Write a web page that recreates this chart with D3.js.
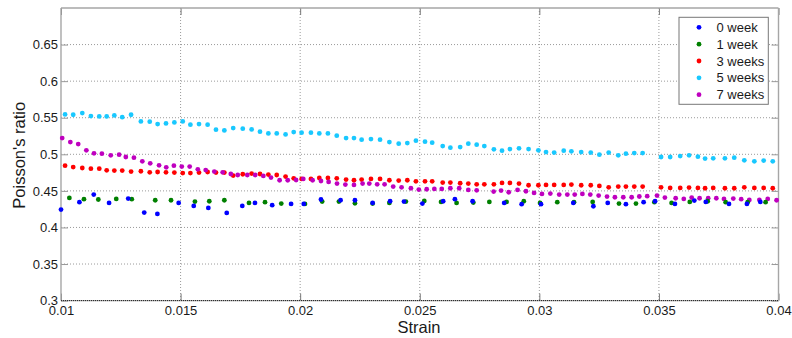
<!DOCTYPE html>
<html>
<head>
<meta charset="utf-8">
<script src="https://cdn.jsdelivr.net/npm/d3@7/dist/d3.min.js"></script>
<style>
  html, body { margin: 0; padding: 0; background: #fff; }
  svg { display: block; font-family: "Liberation Sans", Arial, sans-serif; }
</style>
</head>
<body>
<svg id="chart" width="792" height="338"></svg>
<script>
// ---------- data ----------
const seriesNames = ["0 week", "1 week", "3 weeks", "5 weeks", "7 weeks"];
const seriesColors = ["#0000ff", "#008000", "#ff0000", "#19c8ff", "#bf00bf"];

const xTicks = [0.01, 0.015, 0.02, 0.025, 0.03, 0.035, 0.04];
const xTickLabels = ["0.01", "0.015", "0.02", "0.025", "0.03", "0.035", "0.04"];
const yTicks = [0.3, 0.35, 0.4, 0.45, 0.5, 0.55, 0.6, 0.65];
const yTickLabels = ["0.3", "0.35", "0.4", "0.45", "0.5", "0.55", "0.6", "0.65"];

// 0 week
const strain0 = [0.0100,0.01077,0.01137,0.01201,0.01281,0.01348,0.01403,0.01492,0.01555,0.01616,0.01693,0.01758,
  0.01811,0.01883,0.01962,0.02015,0.02087,0.02169,0.02229,0.02303,0.02376,0.02434,0.02511,
  0.02598,0.02647,0.02721,0.02853,0.02926,0.03007,0.03142,0.03226,0.03286,
  0.03362,0.03436,0.03484,0.03567,0.03648,0.03696,0.03793,0.03868,0.03924];
const ratio0 = [0.4245,0.4345,0.4450,0.4335,0.4395,0.4204,0.4185,0.4335,0.4294,0.4267,0.4199,0.4294,
  0.4335,0.4304,0.4322,0.4322,0.4382,0.4372,0.4372,0.4335,0.4358,0.4354,0.4327,
  0.4358,0.4386,0.4358,0.4335,0.4318,0.4318,0.4335,0.4290,0.4335,
  0.4318,0.4345,0.4358,0.4322,0.4368,0.4349,0.4322,0.4322,0.4349];

// 1 week
const strain1 = [0.01035,0.01096,0.01156,0.01231,0.01296,0.01394,0.0146,0.0156,0.0162,0.01683,
  0.01786,0.01853,0.01921,0.0202,0.02092,0.02162,0.02229,0.02303,0.02373,0.02442,0.02519,
  0.02589,0.02654,0.02724,0.02791,0.02863,0.02935,0.03003,0.03075,0.03145,0.03223,
  0.03333,0.03404,0.03481,0.03553,0.03629,0.03704,0.03779,0.03871,0.03946];
const ratio1 = [0.4403,0.4386,0.4382,0.4390,0.4386,0.4372,0.4372,0.4354,0.4358,0.4372,
  0.4335,0.4345,0.4327,0.4322,0.4354,0.4354,0.4331,0.4327,0.4335,0.4354,0.4363,
  0.4349,0.4335,0.4340,0.4349,0.4349,0.4358,0.4335,0.4345,0.4345,0.4349,
  0.4327,0.4327,0.4345,0.4335,0.4349,0.4358,0.4345,0.4345,0.4345];

// 3 weeks and 5 weeks share the same strain steps
const strain35 = [0.01017,0.01051,0.01089,0.01125,0.0116,0.01191,0.01223,0.01256,0.01293,0.01334,
  0.01371,0.01404,0.01439,0.01474,0.01509,0.01541,0.01577,0.01613,0.01648,0.01683,
  0.0172,0.0176,0.01797,0.01832,0.01867,0.01902,0.01939,0.01973,0.02006,0.02045,
  0.0208,0.02116,0.02153,0.02192,0.02225,0.02257,0.02296,0.02334,0.02373,0.02412,
  0.02448,0.02484,0.02522,0.02552,0.02596,0.02628,0.02669,0.02703,0.02738,0.0277,
  0.0281,0.02844,0.02877,0.02915,0.02955,0.02996,0.03028,0.03062,0.03102,0.03134,
  0.03175,0.03215,0.03251,0.0329,0.0333,0.03362,0.03397,0.03432,0.03509,0.03547,
  0.03589,0.03626,0.03663,0.03693,0.03727,0.03776,0.03815,0.03857,0.03899,0.03938,0.03976];
const ratio3 = [0.4845,0.4826,0.4813,0.4804,0.4804,0.4781,0.4777,0.4777,0.4764,0.4768,
  0.4754,0.4758,0.4754,0.4750,0.4744,0.4744,0.4750,0.4758,0.4750,0.4750,
  0.4709,0.4727,0.4736,0.4731,0.4723,0.4717,0.4695,0.4672,0.4663,0.4663,
  0.4676,0.4676,0.4672,0.4654,0.4645,0.4654,0.4663,0.4663,0.4645,0.4641,
  0.4645,0.4631,0.4631,0.4631,0.4613,0.4613,0.4604,0.4600,0.4590,0.4590,
  0.4590,0.4608,0.4608,0.4600,0.4577,0.4577,0.4581,0.4581,0.4581,0.4586,
  0.4577,0.4577,0.4567,0.4549,0.4559,0.4559,0.4559,0.4559,0.4549,0.4540,
  0.4540,0.4545,0.4540,0.4536,0.4540,0.4536,0.4536,0.4549,0.4540,0.4540,0.4536];
const ratio5 = [0.5545,0.5541,0.5563,0.5522,0.5518,0.5518,0.5531,0.5508,0.5541,0.5450,
  0.5446,0.5413,0.5422,0.5436,0.5450,0.5405,0.5413,0.5405,0.5336,0.5327,
  0.5358,0.5350,0.5340,0.5309,0.5286,0.5286,0.5272,0.5304,0.5295,0.5295,
  0.5286,0.5286,0.5255,0.5222,0.5222,0.5200,0.5208,0.5200,0.5167,0.5145,
  0.5154,0.5186,0.5173,0.5159,0.5113,0.5091,0.5099,0.5145,0.5132,0.5113,
  0.5068,0.5050,0.5072,0.5081,0.5072,0.5054,0.5031,0.5023,0.5050,0.5040,
  0.5031,0.5023,0.4995,0.5023,0.4986,0.5009,0.5017,0.5017,0.4963,0.4963,
  0.4976,0.4986,0.4968,0.4941,0.4945,0.4945,0.4954,0.4918,0.4904,0.4914,0.4904];

// 7 weeks
const strain7 = [0.01005,0.01039,0.01072,0.01106,0.01138,0.01171,0.01208,0.01243,0.01271,0.01305,
  0.0134,0.01373,0.0141,0.0144,0.01472,0.01505,0.01538,0.01572,0.01605,0.01641,
  0.01676,0.0171,0.01739,0.01779,0.01812,0.01846,0.01878,0.01914,0.01948,0.01983,
  0.02013,0.02052,0.02087,0.02119,0.02154,0.02189,0.02225,0.02261,0.02289,0.02322,
  0.02353,0.02389,0.02424,0.02463,0.02496,0.02529,0.02561,0.02592,0.02628,0.02665,
  0.02703,0.02738,0.02809,0.0284,0.02872,0.02909,0.02944,0.02978,0.03011,0.03046,
  0.03083,0.03117,0.03148,0.0318,0.03213,0.03248,0.03283,0.03316,0.03351,0.03386,
  0.03418,0.03451,0.03492,0.03525,0.0357,0.03604,0.03637,0.0367,0.03706,0.0374,
  0.03772,0.03811,0.03844,0.03878,0.0392,0.03955,0.03992];
const ratio7 = [0.5222,0.5167,0.5140,0.5054,0.5013,0.5009,0.4986,0.4995,0.4963,0.4954,
  0.4904,0.4877,0.4849,0.4822,0.4845,0.4832,0.4832,0.4795,0.4785,0.4764,
  0.4754,0.4731,0.4717,0.4717,0.4717,0.4704,0.4682,0.4645,0.4645,0.4649,
  0.4663,0.4645,0.4635,0.4622,0.4600,0.4586,0.4581,0.4600,0.4600,0.4590,
  0.4590,0.4559,0.4549,0.4536,0.4518,0.4522,0.4526,0.4526,0.4536,0.4536,
  0.4513,0.4508,0.4491,0.4504,0.4481,0.4513,0.4495,0.4472,0.4458,0.4463,
  0.4450,0.4450,0.4450,0.4458,0.4450,0.4436,0.4422,0.4413,0.4413,0.4413,
  0.4423,0.4427,0.4436,0.4409,0.4399,0.4390,0.4409,0.4399,0.4399,0.4399,
  0.4390,0.4395,0.4386,0.4376,0.4376,0.4390,0.4372];

const seriesData = [
  [strain0, ratio0],
  [strain1, ratio1],
  [strain35, ratio3],
  [strain35, ratio5],
  [strain7, ratio7]
];
// draw order (back to front)
const drawOrder = [3, 2, 4, 1, 0];

// ---------- layout ----------
const W = 792, H = 338;
const L = 61, R = 778.5, T = 8, B = 300.6;

const svg = d3.select("#chart");
svg.append("rect").attr("width", W).attr("height", H).attr("fill", "#fff");

const x = d3.scaleLinear().domain([0.01, 0.04]).range([L, R]);
const y = d3.scaleLinear().domain([0.3, 0.7]).range([B, T]);

// grid
const grid = svg.append("g").attr("class", "grid");
grid.selectAll("line.vg").data(xTicks.slice(1, -1)).enter().append("line")
  .attr("x1", d => x(d)).attr("x2", d => x(d)).attr("y1", T).attr("y2", B)
  .attr("stroke", "#9a9a9a").attr("stroke-width", 1).attr("stroke-dasharray", "1,2");
grid.selectAll("line.hg").data(yTicks.slice(1)).enter().append("line")
  .attr("x1", L).attr("x2", R).attr("y1", d => y(d)).attr("y2", d => y(d))
  .attr("stroke", "#9a9a9a").attr("stroke-width", 1).attr("stroke-dasharray", "1,2");

// axes with library axis generators
const tl = 7;
const xAxisB = d3.axisBottom(x).tickValues(xTicks).tickFormat((d, i) => xTickLabels[i]).tickSizeInner(-tl).tickSizeOuter(0).tickPadding(5);
const xAxisT = d3.axisTop(x).tickValues(xTicks).tickFormat("").tickSizeInner(-tl).tickSizeOuter(0);
const yAxisL = d3.axisLeft(y).tickValues(yTicks).tickFormat((d, i) => yTickLabels[i]).tickSizeInner(-tl).tickSizeOuter(0).tickPadding(3);
const yAxisR = d3.axisRight(y).tickValues(yTicks).tickFormat("").tickSizeInner(-tl).tickSizeOuter(0);

function style(g, color) {
  g.select(".domain").remove();
  g.selectAll(".tick line").attr("stroke", color).attr("stroke-width", 1);
  g.selectAll(".tick text").attr("fill", "#1a1a1a").style("font-size", "13px")
    .style("font-family", '"Liberation Sans", Arial, sans-serif');
}
svg.append("g").attr("transform", `translate(0,${B})`).call(xAxisB).call(g => style(g, "#777"));
svg.append("g").attr("transform", `translate(0,${T})`).call(xAxisT).call(g => style(g, "#777"));
svg.append("g").attr("transform", `translate(${L},0)`).call(yAxisL).call(g => style(g, "#999"));
svg.append("g").attr("transform", `translate(${R},0)`).call(yAxisR).call(g => style(g, "#999"));

// box
svg.append("line").attr("x1", L).attr("x2", R).attr("y1", T).attr("y2", T).attr("stroke", "#a6a6a6").attr("stroke-width", 1.4);
svg.append("line").attr("x1", L).attr("x2", L).attr("y1", T).attr("y2", B).attr("stroke", "#a6a6a6").attr("stroke-width", 1.4);
svg.append("line").attr("x1", R).attr("x2", R).attr("y1", T).attr("y2", B).attr("stroke", "#a6a6a6").attr("stroke-width", 1.4);
svg.append("line").attr("x1", L).attr("x2", R).attr("y1", B).attr("y2", B).attr("stroke", "#a6a6a6").attr("stroke-width", 1.4);
svg.append("line").attr("x1", L).attr("x2", R).attr("y1", B).attr("y2", B).attr("stroke", "#222").attr("stroke-width", 1).attr("stroke-dasharray", "1,1");

// points
const pts = svg.append("g");
drawOrder.forEach(si => {
  const [xs, ys] = seriesData[si];
  pts.append("g").selectAll("circle").data(xs.map((s, i) => [s, ys[i]])).enter().append("circle")
    .attr("cx", d => x(d[0])).attr("cy", d => y(d[1])).attr("r", 2.4)
    .attr("fill", seriesColors[si]);
});

// axis titles
svg.append("text").attr("x", 419).attr("y", 332.5).attr("text-anchor", "middle")
  .style("font-size", "16.5px").attr("fill", "#1a1a1a").text("Strain");
svg.append("text").attr("transform", `translate(25,${(T + B) / 2 + 1}) rotate(-90)`).attr("text-anchor", "middle")
  .style("font-size", "16.5px").attr("fill", "#1a1a1a").text("Poisson's ratio");

// legend
const lg = svg.append("g");
lg.append("rect").attr("x", 679).attr("y", 17.3).attr("width", 89.3).attr("height", 87)
  .attr("fill", "#fff").attr("stroke", "#777").attr("stroke-width", 1);
seriesNames.forEach((name, i) => {
  const cy = 27.3 + i * 16.85;
  lg.append("circle").attr("cx", 699).attr("cy", cy).attr("r", 2.4).attr("fill", seriesColors[i]);
  lg.append("text").attr("x", 716.5).attr("y", cy).attr("dy", "0.35em")
    .style("font-size", "13px").attr("fill", "#1a1a1a").text(name);
});
</script>
</body>
</html>
